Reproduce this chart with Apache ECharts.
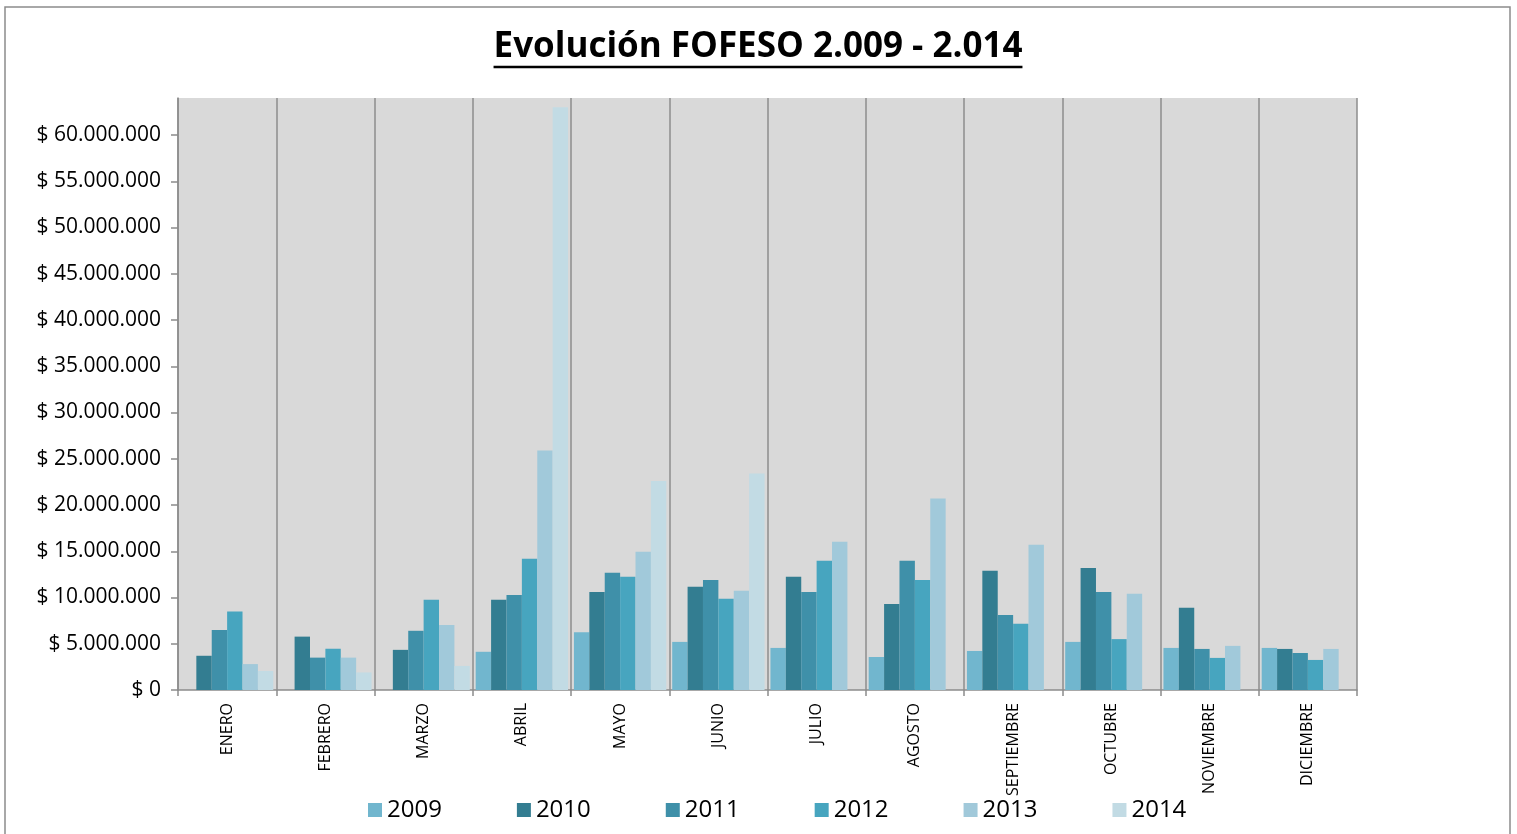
<!DOCTYPE html>
<html><head><meta charset="utf-8">
<script src="https://cdn.jsdelivr.net/npm/echarts@6/dist/echarts.min.js"></script>
<style>html,body{margin:0;padding:0;background:#fff}#c{width:1517px;height:834px}</style>
</head><body><div id="c"></div>
<script>
const months = ['ENERO','FEBRERO','MARZO','ABRIL','MAYO','JUNIO','JULIO','AGOSTO','SEPTIEMBRE','OCTUBRE','NOVIEMBRE','DICIEMBRE'];
const years = ['2009','2010','2011','2012','2013','2014'];
const v2009 = [null, null, null, 4130000, 6250000, 5200000, 4550000, 3570000, 4220000, 5200000, 4550000, 4550000];
const v2010 = [3700000, 5770000, 4340000, 9770000, 10600000, 11160000, 12240000, 9310000, 12900000, 13200000, 8880000, 4440000];
const v2011 = [6500000, 3500000, 6400000, 10270000, 12670000, 11900000, 10600000, 13970000, 8120000, 10600000, 4440000, 4000000];
const v2012 = [8500000, 4460000, 9770000, 14190000, 12240000, 9860000, 13970000, 11900000, 7150000, 5500000, 3470000, 3250000];
const v2013 = [2800000, 3500000, 7030000, 25900000, 14950000, 10720000, 16030000, 20700000, 15700000, 10400000, 4770000, 4440000];
const v2014 = [2060000, 1900000, 2600000, 63000000, 22600000, 23400000, null, null, null, null, null, null];
const yTicks = [0,5000000,10000000,15000000,20000000,25000000,30000000,35000000,40000000,45000000,50000000,55000000,60000000];
const colors = ['#71B6CE','#337D91','#3F90A9','#47A5BF','#A1C9DA','#C2DBE4'];
const seriesData = [v2009, v2010, v2011, v2012, v2013, v2014];

function fmt(v){ return '$ ' + String(Math.round(v)).replace(/\B(?=(\d{3})+(?!\d))/g, '.'); }

const titleText = 'Evolución FOFESO 2.009 - 2.014';
const titleFont = 'bold 35px "Open Sans"';
const cv = document.createElement('canvas').getContext('2d');
cv.font = titleFont;
const tw = cv.measureText(titleText).width;
const cx = 758;

const chart = echarts.init(document.getElementById('c'), null, {renderer:'canvas'});
chart.setOption({
  animation:false,
  color: colors,
  graphic:[
    {type:'rect', shape:{x:5,y:7,width:1505,height:840}, style:{fill:'none', stroke:'#8c8c8c', lineWidth:1.5}, silent:true},
    {type:'text', x:cx, y:47, style:{text:titleText, font:titleFont, fill:'#000', textAlign:'center', textVerticalAlign:'middle'}},
    {type:'line', shape:{x1:cx-tw/2, y1:67, x2:cx+tw/2, y2:67}, style:{stroke:'#000', lineWidth:2.5}}
  ],
  grid:{left:178, right:160, top:98, bottom:144, show:true, backgroundColor:'#D9D9D9', borderWidth:0, containLabel:false},
  legend:{
    data: years, left:363, top:793, itemWidth:14, itemHeight:14, itemGap:75, icon:'rect',
    textStyle:{fontSize:24, fontFamily:'"Open Sans", sans-serif', color:'#000'}
  },
  xAxis:{
    type:'category', data: months,
    axisLine:{show:true, lineStyle:{color:'#8c8c8c', width:1.5}},
    axisTick:{show:true, length:6, lineStyle:{color:'#8c8c8c', width:1.5}},
    splitLine:{show:true, lineStyle:{color:'#8c8c8c', width:1.5}},
    axisLabel:{rotate:90, fontSize:16, margin:13, color:'#000', fontFamily:'"Open Sans", sans-serif'}
  },
  yAxis:{
    type:'value', min:0, max:64000000, interval:5000000,
    axisLine:{show:true, lineStyle:{color:'#8c8c8c', width:1.5}},
    axisTick:{show:true, length:7, customValues: yTicks, lineStyle:{color:'#8c8c8c', width:1.5}},
    splitLine:{show:false},
    axisLabel:{customValues: yTicks, formatter: fmt, fontSize:21, margin:17, color:'#000', fontFamily:'"Open Sans", sans-serif'}
  },
  series: years.map((y,i)=>({
    name:y, type:'bar', data: seriesData[i], barGap:'0%', barCategoryGap:'6%',
    itemStyle:{color:colors[i]}
  }))
});
</script></body></html>
